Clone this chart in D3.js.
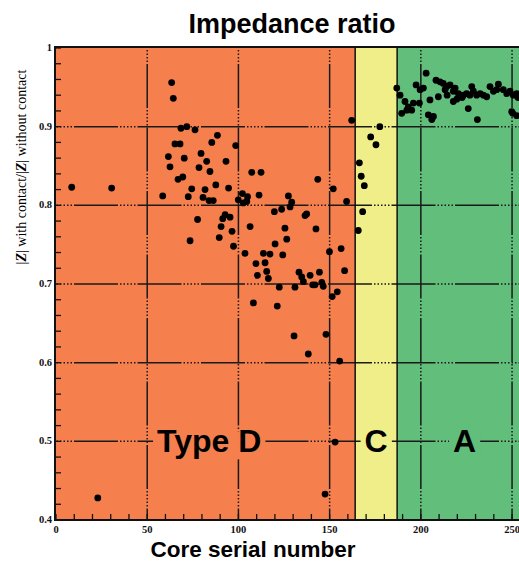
<!DOCTYPE html>
<html><head><meta charset="utf-8">
<script src="https://cdn.jsdelivr.net/npm/d3@7"></script>
<style>html,body{margin:0;padding:0;background:#fff;}svg{display:block;}</style>
</head><body>
<script>
// ---- data ----
const xTicks = [0, 50, 100, 150, 200, 250];
const yTicks = [0.4, 0.5, 0.6, 0.7, 0.8, 0.9, 1];
const yTickLabels = ["0.4", "0.5", "0.6", "0.7", "0.8", "0.9", "1"];
const bandNames = ["Type D", "C", "A"];
const bandStart = [0, 164, 187];
const bandEnd = [164, 187, 256];
const bandColors = ["#F5804D", "#F0EE88", "#62BE7B"];
const labelPos = [84, 175.5, 224];

const typeD = [[8.6,.823],[30.5,.822],[22.9,.428],[58.5,.812],[63.4,.956],[64.3,.936],[68.5,.898],[71.7,.900],[76.2,.896],[88.5,.889],[85.4,.880],[98.5,.876],[65.2,.878],[68.0,.878],[79.5,.866],[61.6,.862],[70.3,.860],[82.6,.856],[93.2,.856],[62.5,.849],[78.4,.848],[84.4,.843],[66.9,.833],[69.5,.836],[87.6,.826],[94.6,.822],[74.4,.821],[81.7,.820],[72.5,.811],[80.6,.810],[83.9,.806],[86.2,.806],[99.9,.807],[102.2,.815],[105.0,.811],[104.6,.805],[102.7,.803],[107.3,.842],[112.4,.842],[111.3,.813],[127.4,.812],[143.5,.833],[152.0,.821],[129.2,.804],[128.3,.798],[123.7,.795],[119.7,.792],[159.3,.805],[136.5,.787],[137.4,.789],[92.7,.788],[91.4,.783],[95.4,.785],[77.6,.782],[106.4,.773],[90.5,.773],[96.5,.767],[125.5,.771],[142.5,.770],[73.5,.755],[89.5,.759],[126.5,.757],[97.3,.748],[120.1,.751],[103.6,.739],[113.7,.739],[117.3,.738],[124.3,.737],[156.3,.745],[149.9,.741],[109.6,.726],[114.6,.727],[158.2,.717],[115.5,.716],[116.4,.707],[110.4,.711],[133.2,.715],[134.7,.709],[135.6,.703],[139.3,.711],[144.4,.715],[140.7,.699],[142.0,.699],[145.7,.702],[146.5,.697],[122.4,.696],[131.0,.696],[154.2,.690],[151.4,.684],[108.2,.676],[121.3,.672],[130.5,.634],[148.0,.636],[138.3,.611],[155.5,.602],[147.5,.433],[153.0,.499],[162.1,.908]];
const typeC = [[177.5,.900],[172.5,.887],[175.4,.877],[166.3,.854],[167.3,.837],[169.0,.825],[168.1,.792],[165.7,.768]];
const typeA = [[186.8,.949],[188.6,.940],[189.5,.917],[191.3,.932],[193.1,.925],[195.0,.921],[192.3,.921],[195.9,.930],[197.4,.953],[199.6,.947],[201.4,.949],[199.2,.930],[202.9,.968],[205.0,.934],[209.6,.938],[204.1,.915],[206.0,.909],[206.9,.913],[208.3,.959],[210.5,.957],[212.3,.955],[214.2,.951],[216.0,.953],[213.3,.947],[217.8,.945],[218.8,.949],[217.8,.932],[219.7,.935],[226.0,.923],[231.0,.909],[227.9,.951],[237.9,.951],[242.5,.954],[250.4,.917],[220.6,.942],[223.3,.940],[225.1,.942],[226.9,.940],[228.8,.945],[230.6,.940],[232.5,.942],[234.3,.940],[236.1,.938],[239.8,.945],[241.6,.947],[245.2,.947],[247.1,.942],[248.9,.945],[250.7,.940],[252.6,.942],[253.3,.937],[252.6,.914],[249.8,.919],[222.6,.937],[214.4,.940]];

// ---- chart ----
const W = 519, H = 562;
const svg = d3.select("body").append("svg").attr("width", W).attr("height", H);
const x = d3.scaleLinear().domain([0, 256]).range([56, 523]);
const y = d3.scaleLinear().domain([0.4, 1]).range([520, 48]);
const x0 = x(0) - 1, yTop = y(1) - 1, yBot = y(0.4);

svg.append("defs").append("clipPath").attr("id", "pc")
  .append("rect").attr("x", x0).attr("y", yTop).attr("width", W - x0).attr("height", yBot - yTop);
const plot = svg.append("g").attr("clip-path", "url(#pc)");

// bands
plot.selectAll("rect.band").data(bandNames).join("rect").attr("class", "band")
  .attr("x", (d, i) => x(bandStart[i])).attr("y", yTop)
  .attr("width", (d, i) => x(bandEnd[i]) - x(bandStart[i])).attr("height", yBot - yTop)
  .attr("fill", (d, i) => bandColors[i]);

// gridlines (dash-dot pattern)
const dash = "44,2,1.5,2,1.5,2,1.5,2,1.5,2,1.5,2";
plot.selectAll("line.hg").data(yTicks.slice(1, -1)).join("line").attr("class", "hg")
  .attr("x1", x0).attr("x2", W).attr("y1", d => y(d)).attr("y2", d => y(d))
  .attr("stroke", "#1a1a1a").attr("stroke-width", 1.5)
  .attr("stroke-dasharray", dash).attr("stroke-dashoffset", 44.5);
plot.selectAll("line.vg").data(xTicks.slice(1)).join("line").attr("class", "vg")
  .attr("y1", yTop).attr("y2", yBot).attr("x1", d => x(d)).attr("x2", d => x(d))
  .attr("stroke", "#1a1a1a").attr("stroke-width", 1.5)
  .attr("stroke-dasharray", dash).attr("stroke-dashoffset", 46.5);

// band boundaries
plot.selectAll("line.bb").data(bandStart.slice(1)).join("line").attr("class", "bb")
  .attr("x1", d => x(d)).attr("x2", d => x(d)).attr("y1", yTop).attr("y2", yBot)
  .attr("stroke", "#111").attr("stroke-width", 1.5);

// minor ticks
const xMinor = d3.range(0, 256, 10);
plot.selectAll("line.xm").data(xMinor).join("line").attr("class", "xm")
  .attr("x1", d => x(d)).attr("x2", d => x(d)).attr("y1", yBot).attr("y2", yBot - 6)
  .attr("stroke", "#111").attr("stroke-width", 1.3);
const yMinor = d3.range(0.4, 1.0001, 0.02);
plot.selectAll("line.ym").data(yMinor).join("line").attr("class", "ym")
  .attr("x1", x0).attr("x2", x0 + 6).attr("y1", d => y(d)).attr("y2", d => y(d))
  .attr("stroke", "#111").attr("stroke-width", 1.3);

// band labels with background
const lbl = plot.selectAll("g.lbl").data(bandNames).join("g").attr("class", "lbl");
lbl.append("text")
  .attr("x", (d, i) => x(labelPos[i])).attr("y", y(0.5) + 11)
  .attr("text-anchor", "middle").attr("font-family", "Liberation Sans, Arial, sans-serif")
  .attr("font-weight", "bold").attr("font-size", 32).attr("fill", "#000")
  .text(d => d)
  .each(function(d, i) {
    const b = this.getBBox();
    d3.select(this.parentNode).insert("rect", "text")
      .attr("x", b.x - 4).attr("y", y(0.5) - 10).attr("width", b.width + 8).attr("height", 28)
      .attr("fill", bandColors[i]);
  });

// points
const allPts = typeD.concat(typeC, typeA);
plot.selectAll("circle.pt").data(allPts).join("circle").attr("class", "pt")
  .attr("cx", d => x(d[0])).attr("cy", d => y(d[1])).attr("r", 3.4).attr("fill", "#000");

// border
svg.append("path").attr("d", `M${W},${yTop}H${x0}V${yBot}H${W}`)
  .attr("fill", "none").attr("stroke", "#111").attr("stroke-width", 2);

// tick labels
svg.selectAll("text.xt").data(xTicks).join("text").attr("class", "xt")
  .attr("x", d => x(d)).attr("y", 533).attr("text-anchor", "middle")
  .attr("font-family", "Liberation Serif, Times New Roman, serif").attr("font-weight", "bold")
  .attr("font-size", 10.5).attr("fill", "#111").text(d => d);
svg.selectAll("text.yt").data(yTicks).join("text").attr("class", "yt")
  .attr("x", 52).attr("y", d => y(d) + 3).attr("text-anchor", "end")
  .attr("font-family", "Liberation Serif, Times New Roman, serif").attr("font-weight", "bold")
  .attr("font-size", 10.5).attr("fill", "#111").text((d, i) => yTickLabels[i]);

// titles
svg.append("text").attr("x", 292).attr("y", 33).attr("text-anchor", "middle")
  .attr("font-family", "Liberation Sans, Arial, sans-serif").attr("font-weight", "bold")
  .attr("font-size", 27).attr("fill", "#000").text("Impedance ratio");
svg.append("text").attr("x", 253).attr("y", 557).attr("text-anchor", "middle")
  .attr("font-family", "Liberation Sans, Arial, sans-serif").attr("font-weight", "bold")
  .attr("font-size", 22.5).attr("fill", "#000").text("Core serial number");
const yl = svg.append("text").attr("transform", "translate(26,167) rotate(-90)")
  .attr("text-anchor", "middle").attr("font-family", "Liberation Serif, Times New Roman, serif")
  .attr("font-size", 14).attr("fill", "#000");
yl.append("tspan").text("|");
yl.append("tspan").attr("font-style", "italic").attr("font-weight", "bold").text("Z");
yl.append("tspan").text("| with contact/|");
yl.append("tspan").attr("font-style", "italic").attr("font-weight", "bold").text("Z");
yl.append("tspan").text("| without contact");
</script>
</body></html>
